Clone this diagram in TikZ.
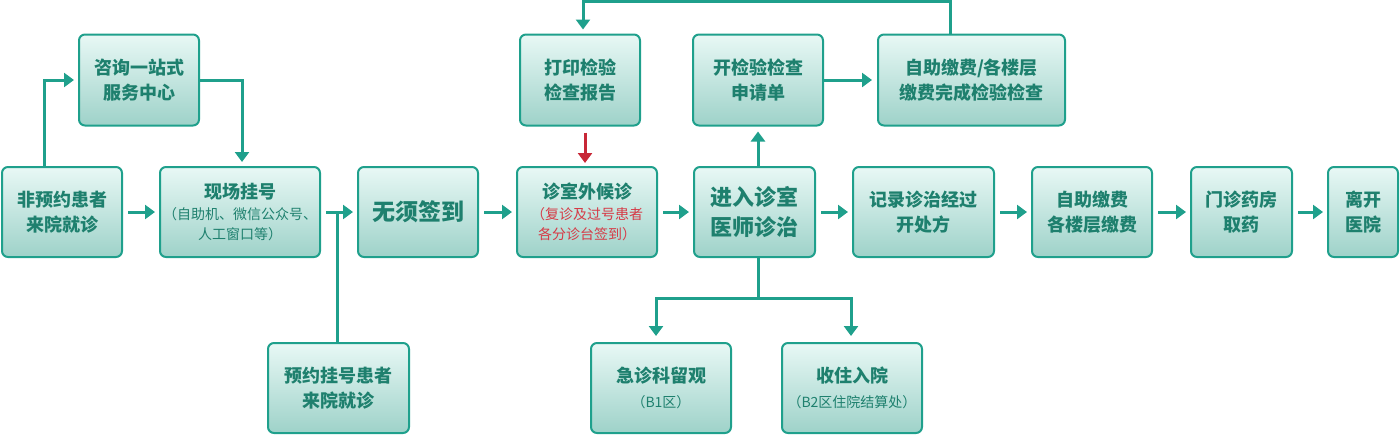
\documentclass[tikz,border=0pt]{standalone}
\usepackage{fontspec}
\setmainfont{Noto Sans CJK SC}
\usetikzlibrary{arrows.meta}
\definecolor{edge}{RGB}{31,160,140}
\definecolor{boxtop}{RGB}{232,248,245}
\definecolor{boxbot}{RGB}{158,210,201}
\definecolor{txt}{RGB}{30,128,110}
\definecolor{redtxt}{RGB}{214,58,70}
\definecolor{redline}{RGB}{200,40,55}
\newcommand{\subtxt}{\mdseries\fontsize{14}{20}\selectfont}
\begin{document}
\begin{tikzpicture}[x=1pt,y=-1pt,
	box/.style={draw=edge,line width=2pt,rounded corners=6pt,top color=boxtop,bottom color=boxbot,text=txt,align=center,inner sep=0pt,font=\bfseries\fontsize{18}{25}\selectfont},
	flow/.style={draw=edge,line width=3pt,-{Triangle[length=10pt,width=14pt]},shorten <=5pt,shorten >=4pt},
	link/.style={draw=edge,line width=3pt}]
	\useasboundingbox (0,0) rectangle (1400,434);
	\node[box,minimum width=120pt,minimum height=90pt] (nonappt) at (62,212) {非预约患者\\来院就诊};
	\node[box,minimum width=120pt,minimum height=91pt] (consult) at (139,80) {咨询一站式\\服务中心};
	\node[box,minimum width=160pt,minimum height=90pt] (onsite) at (240,212) {现场挂号\\[-4pt]{\subtxt（自助机、微信公众号、}\\[-5pt]{\subtxt 人工窗口等）}};
	\node[box,minimum width=141pt,minimum height=90pt] (appt) at (338.5,388) {预约挂号患者\\来院就诊};
	\node[box,minimum width=120pt,minimum height=90pt,font=\bfseries\fontsize{23}{30}\selectfont] (nosign) at (418,212) {无须签到};
	\node[box,minimum width=120pt,minimum height=91pt] (print) at (580,80) {打印检验\\检查报告};
	\node[box,minimum width=140pt,minimum height=90pt] (wait) at (587,212) {诊室外候诊\\[-4pt]{\subtxt\color{redtxt}（复诊及过号患者}\\[-5pt]{\subtxt\color{redtxt}各分诊台签到）}};
	\node[box,minimum width=130pt,minimum height=91pt] (apply) at (758,80) {开检验检查\\申请单};
	\node[box,minimum width=187pt,minimum height=91pt] (pay1) at (971.5,80) {自助缴费/各楼层\\缴费完成检验检查};
	\node[box,minimum width=121pt,minimum height=90pt,font=\bfseries\fontsize{22}{30}\selectfont] (enter) at (754.5,212) {进入诊室\\医师诊治};
	\node[box,minimum width=141pt,minimum height=90pt] (record) at (923.5,212) {记录诊治经过\\开处方};
	\node[box,minimum width=120pt,minimum height=90pt] (pay2) at (1092,212) {自助缴费\\各楼层缴费};
	\node[box,minimum width=101pt,minimum height=90pt] (pharmacy) at (1241.5,212) {门诊药房\\取药};
	\node[box,minimum width=70pt,minimum height=90pt] (leave) at (1363,212) {离开\\医院};
	\node[box,minimum width=140pt,minimum height=90pt] (er) at (661,388) {急诊科留观\\{\subtxt（B1区）}};
	\node[box,minimum width=140pt,minimum height=90pt] (admit) at (852,388) {收住入院\\{\subtxt（B2区住院结算处）}};
	\coordinate (loop) at (950,1.5);
	\coordinate (split) at (758,298);
	\draw[flow,shorten <=0pt] ([xshift=-18pt]nonappt.north) |- (consult.west);
	\draw[flow,shorten <=0pt] (consult.east) -| ([xshift=2pt]onsite.north);
	\draw[flow] (nonappt) -- (onsite);
	\draw[flow] (onsite) -- (nosign);
	\draw[link] ([xshift=-1.5pt]appt.north) -- ([xshift=-1.5pt]appt.north |- nosign.west);
	\draw[flow] (nosign) -- (wait);
	\draw[flow] (wait) -- (enter);
	\draw[flow] (enter) -- (record);
	\draw[flow] (record) -- (pay2);
	\draw[flow] (pay2) -- (pharmacy);
	\draw[flow] (pharmacy) -- (leave);
	\draw[flow,shorten <=0pt,shorten >=5pt] (apply.south |- enter.north) -- (apply.south);
	\draw[flow,shorten <=0pt,shorten >=5pt] (apply.east) -- (pay1.west);
	\draw[flow,shorten <=0pt] (pay1.north -| loop) -- (loop) -| ([xshift=3pt]print.north);
	\draw[flow,draw=redline,shorten <=6pt,shorten >=3pt] ([xshift=5pt]print.south) -- ([xshift=5pt]print.south |- wait.north);
	\draw[link] (enter.south -| split) -- (split);
	\draw[flow,shorten <=0pt,shorten >=6pt] (split) -| ([xshift=-5pt]er.north);
	\draw[flow,shorten <=0pt,shorten >=6pt] (split) -| ([xshift=-1pt]admit.north);
\end{tikzpicture}
\end{document}
